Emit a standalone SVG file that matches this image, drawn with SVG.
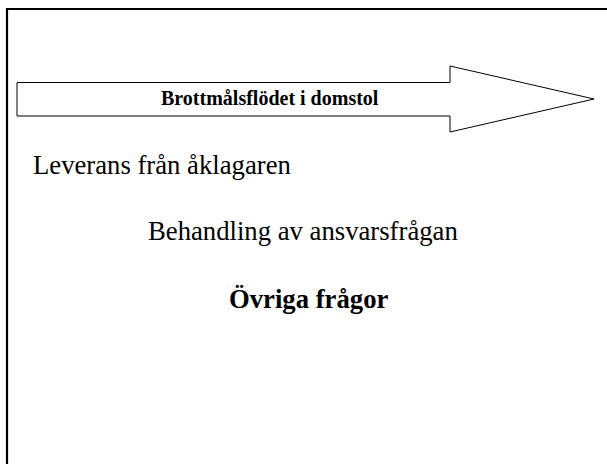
<svg xmlns="http://www.w3.org/2000/svg" width="607" height="464" viewBox="0 0 607 464">
<style>
.t{font-family:"Liberation Serif","Times New Roman",serif;fill:#000}
.b{font-weight:bold}
</style>
<rect x="0" y="0" width="607" height="464" fill="#fff"/>
<path d="M7,464 V9 H607" fill="none" stroke="#000" stroke-width="2.2"/>
<g id="arrow">
<polygon points="17,82.5 450,82.5 450,66 594,99 450,132 450,116 17,116" fill="#fff" stroke="#000" stroke-width="1"/>
<text class="t b" x="161" y="105" font-size="20">Brottmålsflödet i domstol</text>
</g>
<g id="leverans"><text class="t" x="33" y="174" font-size="26.7">Leverans från åklagaren</text></g>
<g id="behandling"><text class="t" x="148" y="240" font-size="26.7">Behandling av ansvarsfrågan</text></g>
<g id="ovriga"><text class="t b" x="229" y="308" font-size="26.7">Övriga frågor</text></g>
<g id="connectors"></g>
</svg>
